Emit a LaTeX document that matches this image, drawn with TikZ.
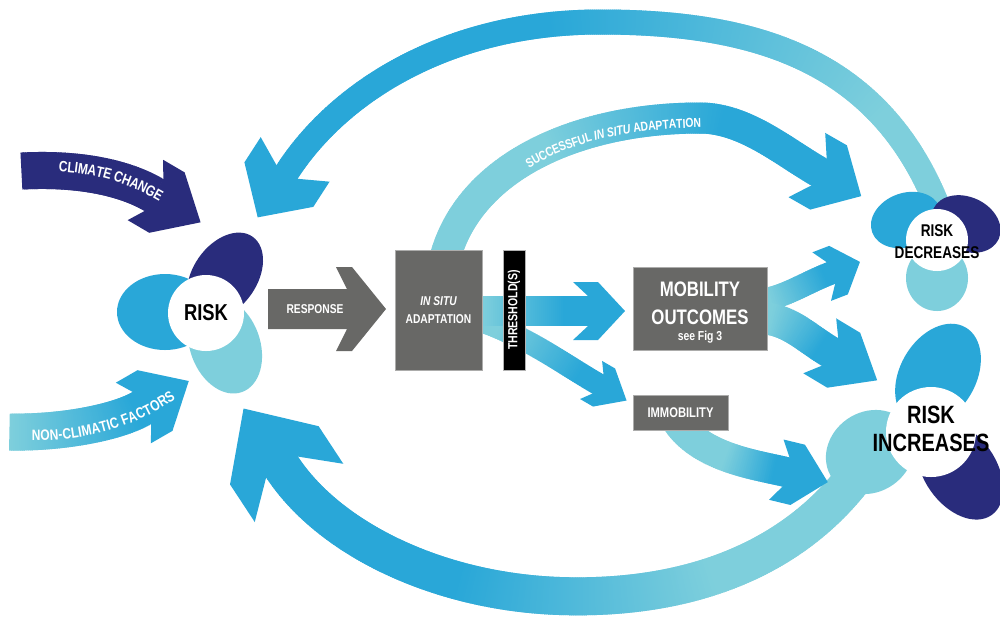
\documentclass[tikz,border=0pt]{standalone}
\usepackage{fontspec}
\newfontfamily\condfont[FakeStretch=0.8]{Liberation Sans}
\usetikzlibrary{decorations.markings,decorations.text}

\definecolor{navyb}{RGB}{41,44,124}
\definecolor{midb}{RGB}{41,167,216}
\definecolor{lightb}{RGB}{126,207,220}
\definecolor{boxgray}{RGB}{104,104,102}

\newcommand\cf[1]{\condfont\bfseries\fontsize{#1}{#1}\selectfont}

% parameters of a shaded band arrow
\pgfkeys{
  /band/from/.store in=\bandFrom,
  /band/to/.store in=\bandTo,
  /band/fa/.store in=\bandFa,
  /band/fb/.store in=\bandFb,
  /band/h/.store in=\bandH,
  /band/tip/.store in=\bandTip,
  /band/back/.store in=\bandBack,
  /band/flat/.store in=\bandFlat,
  /band/wing/.store in=\bandWing,
  /band/from=lightb, /band/to=midb, /band/fa=0, /band/fb=1, /band/h=12,
  /band/tip=40, /band/back=10, /band/flat=20, /band/wing=30
}

% one short slice of the band, coloured by its place along the path
\newcommand\bandpiece{%
  \pgfmathsetmacro\bandT{(\pgfkeysvalueof{/pgf/decoration/mark info/distance from start})/(\pgfdecoratedpathlength)}%
  \pgfmathsetmacro\bandP{100*min(1,max(0,(\bandT-\bandFa)/(\bandFb-\bandFa)))}%
  \colorlet{bandc}{\bandTo!\bandP!\bandFrom}%
  \fill[bandc] (-0.6,-\bandH) rectangle (2.8,\bandH);%
}
% the head, with its junction at the end of the path
\newcommand\bandheadshape{%
  \colorlet{bandc}{\bandTo}%
  \fill[bandc] (\bandTip,0) -- ({\bandFlat-\bandBack},\bandWing) -- (-\bandBack,\bandWing)
    -- (0,\bandH) -- (0,-\bandH) -- (-\bandBack,-\bandWing)
    -- ({\bandFlat-\bandBack},-\bandWing) -- cycle;%
}

\tikzset{
  bandbody/.style={/band/.cd, #1, /tikz/.cd, decorate, decoration={markings,
      mark=between positions 0 and 1 step 1pt with {\bandpiece}}},
  bandhead/.pic={\bandheadshape},
  gbox/.style={fill=boxgray, draw=boxgray!55!white, line width=0.4pt, inner sep=0pt},
  wtxt/.style={text=white, inner sep=0pt},
  btxt/.style={text=black, inner sep=0pt, align=center},
  petal/.style={fill=#1},
  hub/.style={circle, fill=white, inner sep=0pt},
}

% a band arrow: shaded body along the path, head at its end
\newcommand\bandarrow[2]{%
  \path[bandbody={#1}] #2;
  \path[/band/.cd, #1, /tikz/.cd] #2 pic[pos=1, sloped, allow upside down]{bandhead};
}

\begin{document}
\begin{tikzpicture}[x=0.5pt, y=-0.5pt]
\fill[white] (0,0) rectangle (1000,618);
\useasboundingbox (0,0) rectangle (1000,618);

% ---------- end points of the large loops ----------
\coordinate (topS) at (941,215);
\coordinate (topE) at (287,172);
\coordinate (sucS) at (445,258);
\coordinate (sucE) at (819,172);
\coordinate (botS) at (870,455);
\coordinate (botE) at (282,467);

% feedback loop over the top: risk decreases -> risk
\bandarrow{fa=0.15, fb=0.6, h=12.5, tip=54, back=15, flat=30, wing=41}
  {(topS) .. controls (884,62) and (760,22) .. (600,22)
          .. controls (450,22) and (340,90) .. (topE)}
% successful in situ adaptation
\bandarrow{fa=0.35, fb=0.75, h=15.5, tip=48.6, back=14, flat=25, wing=37}
  {(sucS) .. controls (470,165) and (580,118) .. (700,118)
          .. controls (745,118) and (784,152) .. (sucE)}
% feedback loop underneath: risk increases -> risk
\bandarrow{fa=0.3, fb=0.68, h=19, tip=70, back=31, flat=45, wing=53}
  {(botS) .. controls (800,565) and (680,600) .. (560,596)
          .. controls (440,592) and (330,540) .. (botE)}

% ---------- RISK cluster ----------
\fill[petal=midb] (165,312) ellipse[x radius=48, y radius=38];
\fill[petal=navyb, rotate around={55:(225,276)}] (225,276) ellipse[x radius=48, y radius=32];
\fill[petal=lightb, rotate around={-70:(225,345)}] (225,345) ellipse[x radius=50, y radius=35];
\node[hub, minimum size=38pt] (risk) at (206,313) {};
\node[btxt, font=\cf{11.5}] at (risk.center) {RISK};

% ---------- RISK DECREASES cluster ----------
\fill[petal=lightb] (937,278) ellipse[x radius=31, y radius=33];
\fill[petal=midb, rotate around={20:(906,220)}] (906,220) ellipse[x radius=36, y radius=27];
\fill[petal=navyb, rotate around={-25:(966,224)}] (966,224) ellipse[x radius=36, y radius=27];
\node[hub, minimum size=31pt] (dec) at (937,240) {};
\node[btxt, font={\condfont\bfseries\fontsize{8.5}{11}\selectfont}] at (937,242) {RISK\\DECREASES};

% ---------- RISK INCREASES cluster ----------
\fill[petal=midb, rotate around={60:(938,375)}] (938,375) ellipse[x radius=55, y radius=38];
\fill[petal=lightb, rotate around={35:(870,452)}] (870,452) ellipse[x radius=46, y radius=40];
\fill[petal=navyb, rotate around={-55:(960,470)}] (960,470) ellipse[x radius=55, y radius=36];
\node[hub, minimum size=45pt] (inc) at (931,432) {};
\node[btxt, font={\condfont\bfseries\fontsize{12.5}{14}\selectfont}] at (931,429) {RISK\\INCREASES};

% ---------- arrows past the threshold ----------
\coordinate (thS) at (470,311);
\coordinate (thE) at (588,311);
\coordinate (dgS) at (472,318);
\coordinate (dgE) at (598,384);
\bandarrow{fa=0.2, fb=0.85, h=11, tip=33, back=8, flat=15, wing=22}
  {(dgS) .. controls (525,335) and (560,362) .. (dgE)}
\bandarrow{fa=0.1, fb=0.8, h=15, tip=37, back=15, flat=25, wing=29}
  {(thS) -- (thE)}

% mobility outcomes -> risk decreases / risk increases
\coordinate (mdS) at (762,300);
\coordinate (mdE) at (831,273);
\coordinate (miS) at (762,318);
\coordinate (miE) at (830,352);
\bandarrow{fa=0.1, fb=0.9, h=11.5, tip=31, back=10, flat=18, wing=26}
  {(mdS) .. controls (785,297) and (805,283) .. (mdE)}
\bandarrow{fa=0.1, fb=0.85, h=16, tip=55, back=12, flat=28, wing=32}
  {(miS) .. controls (790,320) and (805,337) .. (miE)}
% immobility -> risk increases
\coordinate (imS) at (676,420);
\coordinate (imE) at (786,472);
\bandarrow{fa=0.5, fb=0.9, h=15, tip=43, back=10, flat=22, wing=31}
  {(imS) .. controls (700,458) and (757,465) .. (imE)}

% ---------- boxes ----------
\node[gbox, minimum width=43.5pt, minimum height=60pt] (insitu) at (438.5,310) {};
\node[wtxt, font=\cf{6.4}\itshape] at (438.5,301) {IN SITU};
\node[wtxt, font=\cf{6.4}] at (438.5,319) {ADAPTATION};

\node[fill=black, draw=gray!60, line width=0.4pt, minimum width=11pt, minimum height=60pt, inner sep=0pt] (thr) at (514,310) {};
\node[wtxt, rotate=90, font=\cf{6.6}] at (thr.center) {THRESHOLD(S)};

\node[gbox, minimum width=67pt, minimum height=41.5pt] (mob) at (700,308.5) {};
\node[wtxt, font=\cf{10.5}] at (700,289) {MOBILITY};
\node[wtxt, font=\cf{10.5}] at (700,317) {OUTCOMES};
\node[wtxt, font=\cf{6.5}] at (700,337) {see Fig 3};

\node[gbox, minimum width=47.5pt, minimum height=17.5pt] (immo) at (680.5,412.5) {};
\node[wtxt, font=\cf{7}] at (immo.center) {IMMOBILITY};

% ---------- response ----------
\fill[boxgray] (268,289) -- (347,289) -- (336,267) -- (352,267) -- (386,309)
  -- (352,351) -- (336,351) -- (347,329) -- (268,329) -- cycle;
\node[wtxt, font=\cf{6.4}] (resp) at (315,309) {RESPONSE};

% ---------- drivers ----------
\coordinate (ccS) at (22,171);
\coordinate (ccE) at (154,195);
\bandarrow{from=navyb, to=navyb, h=18.5, tip=54, back=10, flat=25, wing=35}
  {(ccS) .. controls (80,168) and (125,178) .. (ccE)}
\coordinate (ncS) at (10,432);
\coordinate (ncE) at (142,408);
\bandarrow{fa=0, fb=0.95, h=18.5, tip=54, back=10, flat=25, wing=35}
  {(ncS) .. controls (60,433) and (116,423) .. (ncE)}

% ---------- lettering along the curved arrows ----------
\path[decorate, decoration={text along path, text={|\cf{7.5}|CLIMATE CHANGE},
    text align=center, text color=white, raise=-2.7pt}]
  (35,166) .. controls (95,164) and (140,180) .. (182,210);
\path[decorate, decoration={text along path, text={|\cf{7.5}|NON-CLIMATIC FACTORS},
    text align=center, text color=white, raise=-2.7pt}]
  (18,435) .. controls (75,438) and (135,425) .. (184,386);
\path[decorate, decoration={text along path,
    text={|\cf{6.5}|SUCCESSFUL |\cf{6.5}\itshape|IN SITU |\cf{6.5}|ADAPTATION},
    text align=center, text color=white, raise=-2.3pt}]
  (500,185) .. controls (545,142) and (620,120) .. (735,123);
\end{tikzpicture}
\end{document}
